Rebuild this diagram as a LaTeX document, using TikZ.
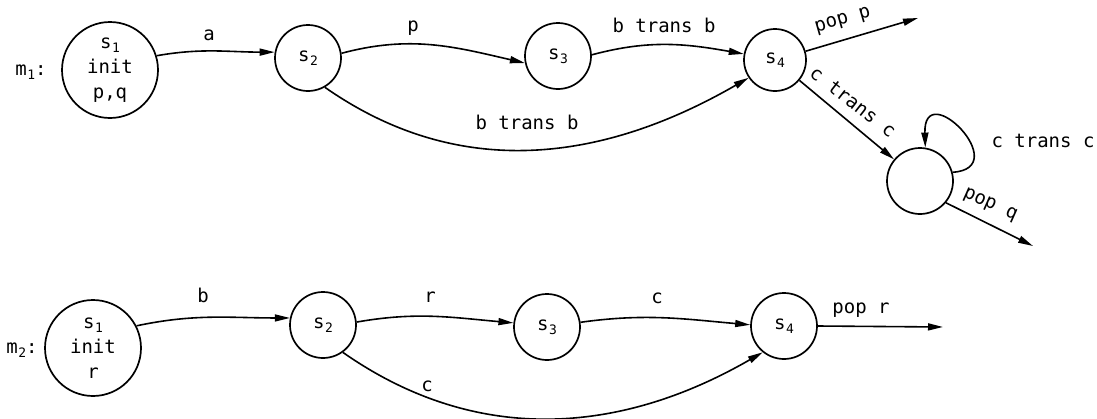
\documentclass[tikz,border=0pt]{standalone}
\usepackage{fontspec}
\setmonofont{DejaVu Sans Mono}
\usetikzlibrary{arrows.meta}
\newcommand\sbx[2]{#1\kern0.5pt\raisebox{-4pt}{\fontsize{13}{13}\selectfont #2}}
\begin{document}
\begin{tikzpicture}[x=1pt,y=-1pt,
  every node/.style={font={\ttfamily\fontsize{19}{25}\selectfont}},
  st/.style={circle,draw,line width=1.7pt,inner sep=0pt,minimum size=66pt},
  big/.style={circle,draw,line width=1.7pt,inner sep=0pt,minimum size=96pt,align=center},
  lab/.style={inner sep=0pt},
  tr/.style={line width=1.6pt,-{Triangle[length=15pt,width=7pt]}}]
\useasboundingbox (0,0) rectangle (1097,418);
% ---------- m1 ----------
\node[lab] (m1) at (31,72) {\sbx{m}{1}:};
\node[big] (a1) at (110,70) {\sbx{s}{1}\\init\\p,q};
\node[st] (a2) at (308,58) {\sbx{s}{2}};
\node[st] (a3) at (558,56) {\sbx{s}{3}};
\node[st,minimum size=62pt] (a4) at (775,60) {\sbx{s}{4}};
\node[st] (a5) at (920,181) {};
\coordinate (pp) at (918,18);
\coordinate (pq) at (1033,246);

\draw[tr] (a1.17) to[out=10,in=180] (a2.170);
\draw[tr] (a2.8) to[out=15,in=167] (a3.192);
\draw[tr] (a3.2) to[out=15,in=170] (a4.169);
\draw[tr] (a2.-60) to[out=-35,in=-150] (a4.214);
\draw[tr] (a4.16) -- (pp);
\draw[tr] (a4) -- (a5);
\draw[tr] (a5.15) .. controls +(62,-4) and +(-2,-72) .. (a5.81);
\draw[tr] (a5.-40) -- (pq);

\node[lab] (la) at (209,35) {a};
\node[lab] (lp) at (413,28) {p};
\node[lab] (lbt) at (664,25) {b trans b};
\node[lab] (lbb) at (527,122) {b trans b};
\node[lab,rotate=16] (lpp) at (843,21) {pop p};
\node[lab,rotate=-38] (lct) at (853,102) {c trans c};
\node[lab] (lcl) at (1043,141) {c trans c};
\node[lab,rotate=-24] (lpq) at (990,205) {pop q};

% ---------- m2 ----------
\node[lab] (m2) at (22,350) {\sbx{m}{2}:};
\node[big] (b1) at (93,348) {\sbx{s}{1}\\init\\r};
\node[st] (b2) at (323,325) {\sbx{s}{2}};
\node[st] (b3) at (547,327) {\sbx{s}{3}};
\node[st] (b4) at (784,326) {\sbx{s}{4}};
\coordinate (pr) at (943,327);

\draw[tr] (b1.27) to[out=12,in=180] (b2.168);
\draw[tr] (b2.5) to[out=10,in=175] (b3.173);
\draw[tr] (b3.8) to[out=8,in=175] (b4.178);
\draw[tr] (b2.-54) to[out=-35,in=-150] (b4.231);
\draw[tr] (b4.east) -- (pr);

\node[lab] (lb) at (203,295) {b};
\node[lab] (lr) at (430,297) {r};
\node[lab] (lc1) at (657,298) {c};
\node[lab] (lc2) at (427,386) {c};
\node[lab] (lpr) at (861,310) {pop r};
\end{tikzpicture}
\end{document}
